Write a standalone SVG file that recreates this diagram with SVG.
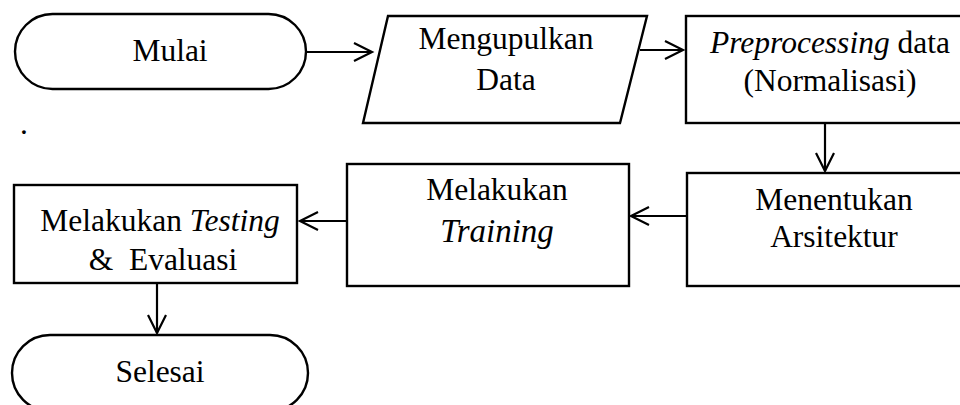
<svg xmlns="http://www.w3.org/2000/svg" width="960" height="405" viewBox="0 0 960 405">
  <style>
    .shape { fill: #fff; stroke: #000; stroke-width: 2.4; }
    .link { fill: none; stroke: #000; stroke-width: 2.2; }
    .lbl { font-family: "Liberation Serif", "Times New Roman", Tinos, "DejaVu Serif", serif; font-size: 31.5px; fill: #000; text-anchor: middle; white-space: pre; }
    .it { font-style: italic; }
  </style>
  <defs>
    <marker id="chev" markerUnits="userSpaceOnUse" markerWidth="24" markerHeight="24" viewBox="-20 -12 24 24" refX="0" refY="0" orient="auto">
      <path d="M-18,-9 L0,0 L-18,9" fill="none" stroke="#000" stroke-width="2.2"/>
    </marker>
    <clipPath id="clipTest">
      <rect x="14" y="186" width="283" height="85"/>
    </clipPath>
  </defs>
  <rect width="960" height="405" fill="#fff"/>

  <g id="connectors">
    <path class="link" d="M306,52 H372" marker-end="url(#chev)"/>
    <path class="link" d="M640,50 H683" marker-end="url(#chev)"/>
    <path class="link" d="M825,123 V171" marker-end="url(#chev)"/>
    <path class="link" d="M687,216 H631" marker-end="url(#chev)"/>
    <path class="link" d="M347,221 H300" marker-end="url(#chev)"/>
    <path class="link" d="M157,283 V333" marker-end="url(#chev)"/>
  </g>

  <g id="mulai">
    <rect class="shape" x="15" y="14" width="291" height="75" rx="37.5" ry="37.5"/>
    <text class="lbl" x="170" y="61" font-family="Liberation Serif, serif">Mulai</text>
  </g>

  <g id="mengumpulkan-data">
    <polygon class="shape" points="388,16 647,16 620,123 363,123"/>
    <text class="lbl" x="506" y="49">Mengupulkan</text>
    <text class="lbl" x="506" y="90">Data</text>
  </g>

  <g id="preprocessing">
    <rect class="shape" x="686" y="16" width="290" height="107"/>
    <text class="lbl" x="830" y="53"><tspan class="it">Preprocessing</tspan> data</text>
    <text class="lbl" x="830" y="91">(Normalisasi)</text>
  </g>

  <g id="arsitektur">
    <rect class="shape" x="687" y="173" width="290" height="113"/>
    <text class="lbl" x="834" y="210">Menentukan</text>
    <text class="lbl" x="834" y="247">Arsitektur</text>
  </g>

  <g id="training">
    <rect class="shape" x="347" y="164" width="282" height="122"/>
    <text class="lbl" x="497" y="200">Melakukan</text>
    <text class="lbl it" x="497" y="242" style="font-size:33px">Training</text>
  </g>

  <g id="testing">
    <rect class="shape" x="14" y="185" width="283" height="98"/>
    <text class="lbl" x="160" y="231">Melakukan <tspan class="it">Testing</tspan></text>
    <text class="lbl" x="163" y="270" clip-path="url(#clipTest)">&amp;  Evaluasi</text>
  </g>

  <g id="selesai">
    <rect class="shape" x="12" y="335" width="296" height="76" rx="38" ry="38"/>
    <text class="lbl" x="160" y="382">Selesai</text>
  </g>

  <text class="lbl" x="24" y="134">.</text>
</svg>
